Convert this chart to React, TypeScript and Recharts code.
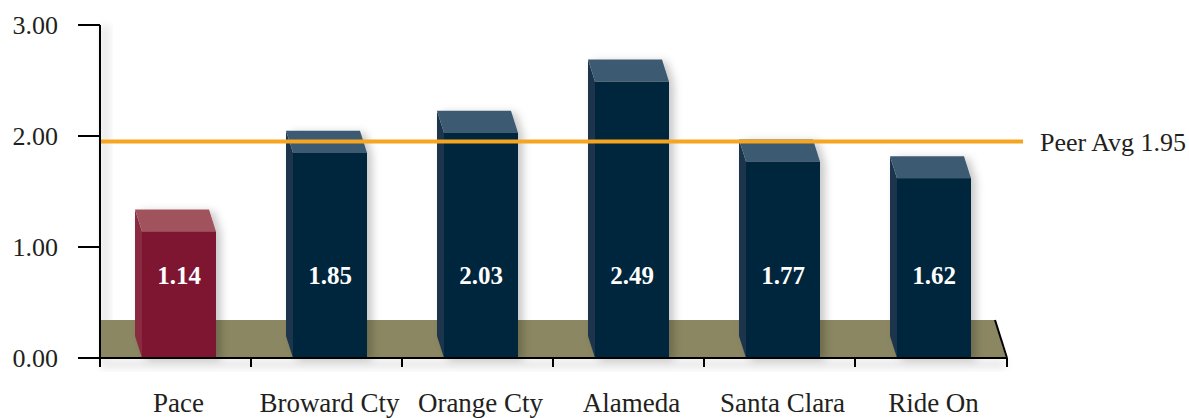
import React from "react";
import {
  BarChart,
  Bar,
  XAxis,
  YAxis,
  ReferenceLine,
  ReferenceArea,
  LabelList,
} from "recharts";

const agencies = ["Pace", "Broward Cty", "Orange Cty", "Alameda", "Santa Clara", "Ride On"];
const ratios = [1.14, 1.85, 2.03, 2.49, 1.77, 1.62];
const yTicks = [0, 1, 2, 3];
const peerAvg = 1.95;
const highlight = "Pace";

const data = agencies.map((name, i) => ({ name, value: ratios[i] }));

const DX = 7;
const DY = 22;
const TEXT = "#231F20";

const colors = {
  pace: { front: "#7E1230", side: "#8A2A40", top: "#A0525C" },
  peer: { front: "#06263D", side: "#1A364E", top: "#3E5A73" },
};

const Bar3D = (props: any) => {
  const { x, y, width, height, payload } = props;
  const c = payload.name === highlight ? colors.pace : colors.peer;
  const fx = x + DX;
  return (
    <g filter="url(#barShadow)">
      <polygon
        points={`${fx},${y} ${x},${y - DY} ${x},${y + height - DY} ${fx},${y + height}`}
        fill={c.side}
      />
      <polygon
        points={`${fx},${y} ${x + width},${y} ${x + width - DX},${y - DY} ${x},${y - DY}`}
        fill={c.top}
      />
      <rect x={fx} y={y} width={width - DX} height={height} fill={c.front} />
    </g>
  );
};

const Floor = (props: any) => {
  const { x, y, width, height } = props;
  const b = y + height;
  const depth = 38;
  return (
    <g>
      <defs>
        <filter id="barShadow" x="-20%" y="-20%" width="150%" height="140%">
          <feDropShadow dx="5" dy="2" stdDeviation="4" floodColor="#000" floodOpacity="0.22" />
        </filter>
        <filter id="blur" x="-50%" y="-50%" width="200%" height="200%">
          <feGaussianBlur stdDeviation="4" />
        </filter>
      </defs>
      <rect x={x + 1} y={y} width={8} height={height} fill="#000" opacity={0.1} filter="url(#blur)" />
      <rect x={x} y={b + 2} width={width} height={8} fill="#000" opacity={0.1} filter="url(#blur)" />
      <polygon
        points={`${x},${b} ${x + width},${b} ${x + width - 11},${b - depth} ${x},${b - depth}`}
        fill="#8B8762"
      />
      <line x1={x + width - 11} y1={b - depth} x2={x + width + 1} y2={b} stroke="#000" strokeWidth={2} />
    </g>
  );
};

const CategoryTick = (props: any) => {
  const { x, y, payload, index } = props;
  const half = payload.offset ?? 75.5;
  return (
    <g>
      <line x1={x - half} y1={y} x2={x - half} y2={y + 9} stroke="#000" strokeWidth={2} />
      {index === agencies.length - 1 && (
        <line x1={x + half + 1} y1={y} x2={x + half + 1} y2={y + 9} stroke="#000" strokeWidth={2} />
      )}
      <text x={x + 3} y={y + 45} textAnchor="middle" dominantBaseline="central" fontSize={27} fill={TEXT}>
        {payload.value}
      </text>
    </g>
  );
};

const ValueLabel = (props: any) => {
  const { x, y, width, height, value } = props;
  return (
    <text
      x={x + DX + (width - DX) / 2}
      y={y + height - 83}
      textAnchor="middle"
      dominantBaseline="central"
      fill="#fff"
      fontWeight="bold"
      fontSize={25}
    >
      {Number(value).toFixed(2)}
    </text>
  );
};

const App: React.FC = () => {
  return (
    <div
      style={{
        position: "absolute",
        left: 0,
        top: 0,
        width: 1189,
        height: 418,
        background: "#fff",
        fontFamily: "'Liberation Serif', serif",
      }}
    >
      <BarChart
        width={1189}
        height={418}
        data={data}
        margin={{ top: 25, right: 183, bottom: 0, left: 0 }}
        barSize={81}
      >
        <ReferenceArea y1={0} y2={3} shape={<Floor />} fill="none" />
        <XAxis
          dataKey="name"
          axisLine={{ stroke: "#000", strokeWidth: 2 }}
          tickLine={false}
          tickSize={0}
          tickMargin={0}
          tick={<CategoryTick />}
          interval={0}
          height={60}
        />
        <YAxis
          domain={[0, 3]}
          ticks={yTicks}
          width={100}
          tickSize={22}
          tickMargin={20}
          axisLine={{ stroke: "#000", strokeWidth: 2 }}
          tickLine={{ stroke: "#000", strokeWidth: 2 }}
          tick={{ fill: TEXT, fontSize: 26 }}
          tickFormatter={(v: number) => v.toFixed(2)}
        />
        <Bar dataKey="value" isAnimationActive={false} shape={<Bar3D />}>
          <LabelList dataKey="value" content={<ValueLabel />} />
        </Bar>
        <ReferenceLine
          y={peerAvg}
          stroke="#F6A520"
          strokeWidth={4}
          shape={(p: any) => <line {...p} x2={p.x2 + 17} />}
          label={{ value: "Peer Avg 1.95", position: "right", offset: 34, fill: TEXT, fontSize: 26 }}
        />
      </BarChart>
    </div>
  );
};

export default App;
